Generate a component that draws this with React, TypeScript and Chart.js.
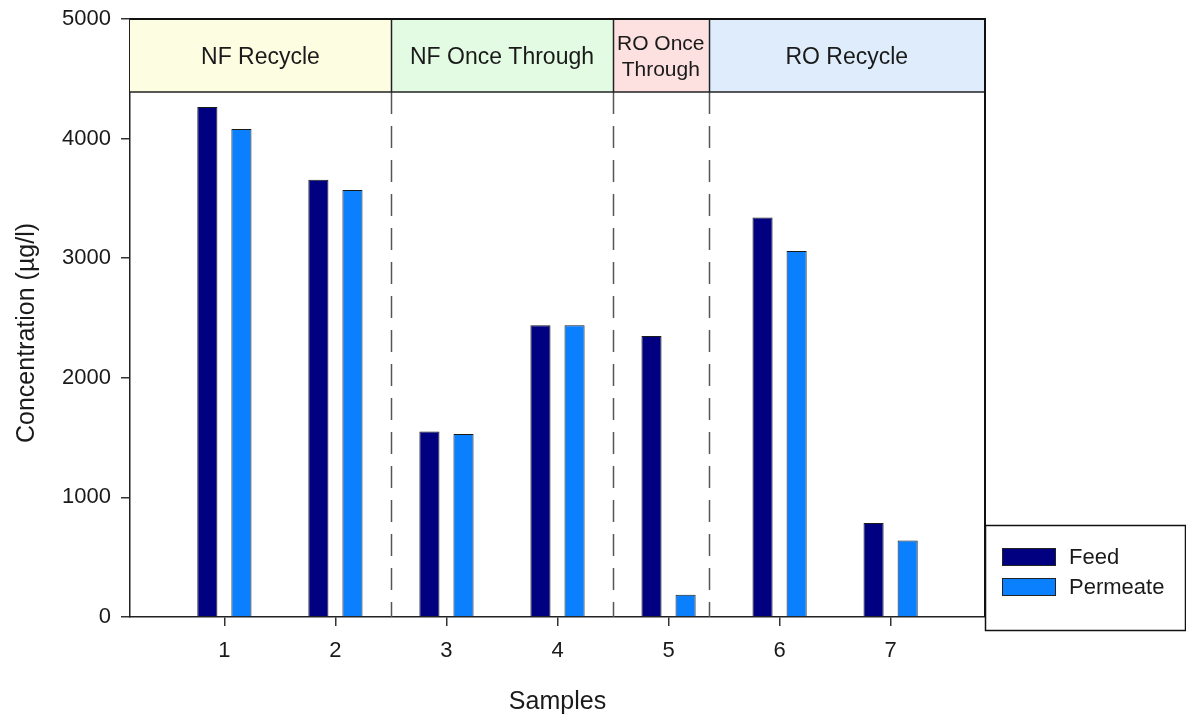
import React, { useEffect, useRef } from 'react';
import { Chart, registerables } from 'chart.js';
Chart.register(...registerables);

const samples = [1, 2, 3, 4, 5, 6, 7];
const feed = [4265, 3655, 1550, 2440, 2350, 3340, 785];
const permeate = [4080, 3570, 1530, 2440, 185, 3060, 640];
const yTicks = [0, 1000, 2000, 3000, 4000, 5000];
const groupLabels = [['NF Recycle'], ['NF Once Through'], ['RO Once', 'Through'], ['RO Recycle']];
const groupBounds = [0.15, 2.5, 4.5, 5.36, 7.85];
const groupColors = ['#fdfde1', '#e2fbe2', '#fde0e0', '#deecfb'];
const headerBottom = 4390;
const seriesNames = ['Feed', 'Permeate'];
const seriesColors = ['#000080', '#0a80ff'];
const yTitle = 'Concentration (µg/l)';

const FONT = '"Liberation Sans", Arial, sans-serif';

const decorPlugin = {
  id: 'decor',
  beforeDatasetsDraw(chart: any) {
    const { ctx, scales } = chart;
    const x = scales.x, y = scales.y;
    ctx.save();
    ctx.strokeStyle = '#555';
    ctx.lineWidth = 1.5;
    ctx.setLineDash([22, 12]);
    for (let i = 1; i < groupBounds.length - 1; i++) {
      const px = Math.round(x.getPixelForValue(groupBounds[i])) + 0.5;
      ctx.beginPath();
      ctx.moveTo(px, y.getPixelForValue(headerBottom));
      ctx.lineTo(px, y.getPixelForValue(0));
      ctx.stroke();
    }
    ctx.restore();
  },
  afterDatasetsDraw(chart: any) {
    const { ctx, scales, chartArea } = chart;
    const x = scales.x, y = scales.y;
    const top = y.getPixelForValue(5000);
    const hb = y.getPixelForValue(headerBottom);
    ctx.save();
    for (let i = 0; i < groupLabels.length; i++) {
      const x0 = x.getPixelForValue(groupBounds[i]);
      const x1 = x.getPixelForValue(groupBounds[i + 1]);
      ctx.fillStyle = groupColors[i];
      ctx.fillRect(x0, top, x1 - x0, hb - top);
      ctx.fillStyle = '#1a1a1a';
      const lines = groupLabels[i];
      const fs = lines.length > 1 ? 21 : 23;
      ctx.font = `${fs}px ${FONT}`;
      ctx.textAlign = 'center';
      ctx.textBaseline = 'middle';
      const cx = (x0 + x1) / 2;
      const cy = (top + hb) / 2 + 2;
      const lh = 26;
      lines.forEach((ln, k) => {
        ctx.fillText(ln, cx, cy + (k - (lines.length - 1) / 2) * lh);
      });
    }
    ctx.strokeStyle = '#222';
    ctx.lineWidth = 1.5;
    for (let i = 1; i < groupBounds.length - 1; i++) {
      const px = Math.round(x.getPixelForValue(groupBounds[i])) + 0.5;
      ctx.beginPath();
      ctx.moveTo(px, top);
      ctx.lineTo(px, hb);
      ctx.stroke();
    }
    ctx.beginPath();
    ctx.moveTo(chartArea.left, hb);
    ctx.lineTo(chartArea.right, hb);
    ctx.stroke();
    // frame top and right
    ctx.lineWidth = 2;
    ctx.strokeStyle = '#111';
    ctx.beginPath();
    ctx.moveTo(chartArea.left, top);
    ctx.lineTo(chartArea.right, top);
    ctx.lineTo(chartArea.right, y.getPixelForValue(0));
    ctx.stroke();

    // y-axis title
    ctx.save();
    ctx.translate(27, 333);
    ctx.rotate(-Math.PI / 2);
    ctx.font = `25px ${FONT}`;
    ctx.fillStyle = '#1a1a1a';
    ctx.textAlign = 'center';
    ctx.textBaseline = 'middle';
    ctx.fillText(yTitle, 0, 0);
    ctx.restore();

    // legend box
    const lx = chartArea.right;
    const ly = 525;
    const lw = 200;
    const lhh = 105;
    ctx.fillStyle = '#fff';
    ctx.fillRect(lx, ly, lw, lhh);
    ctx.strokeStyle = '#111';
    ctx.lineWidth = 1.5;
    ctx.strokeRect(lx + 0.5, ly + 0.5, lw, lhh);
    ctx.font = `22px ${FONT}`;
    ctx.textAlign = 'left';
    ctx.textBaseline = 'middle';
    seriesNames.forEach((name, k) => {
      const sy = ly + 23 + k * 30;
      ctx.fillStyle = seriesColors[k];
      ctx.fillRect(lx + 17, sy, 54, 18);
      ctx.strokeStyle = '#222';
      ctx.lineWidth = 1;
      ctx.strokeRect(lx + 17.5, sy + 0.5, 53, 17);
      ctx.fillStyle = '#1a1a1a';
      ctx.fillText(name, lx + 84, sy + 10);
    });
    ctx.restore();
  },
};

export default function App() {
  const ref = useRef<HTMLCanvasElement | null>(null);
  useEffect(() => {
    if (!ref.current) return;
    const chart = new Chart(ref.current, {
      type: 'bar',
      data: {
        datasets: [
          {
            label: seriesNames[0],
            data: samples.map((s, i) => ({ x: s, y: feed[i] })),
            backgroundColor: seriesColors[0],
            borderColor: '#1a1a1a',
            borderWidth: 1,
          },
          {
            label: seriesNames[1],
            data: samples.map((s, i) => ({ x: s, y: permeate[i] })),
            backgroundColor: seriesColors[1],
            borderColor: '#1a1a1a',
            borderWidth: 1,
          },
        ],
      },
      options: {
        animation: false,
        responsive: true,
        maintainAspectRatio: false,
        categoryPercentage: 0.614,
        barPercentage: 0.59,
        layout: { padding: { left: 0, right: 201, top: 19, bottom: 0 } },
        plugins: { legend: { display: false }, tooltip: { enabled: false } },
        scales: {
          x: {
            type: 'linear',
            min: 0.15,
            max: 7.85,
            offset: false,
            afterBuildTicks: (s: any) => { s.ticks = samples.map((v) => ({ value: v })); },
            afterFit: (s: any) => { s.height = 107; s.paddingLeft = 0; s.paddingRight = 0; },
            grid: { offset: false, drawOnChartArea: false, drawTicks: true, tickLength: 9, color: '#333', lineWidth: 1.5 },
            border: { display: true, color: '#222', width: 1.5 },
            ticks: { color: '#1a1a1a', font: { family: FONT, size: 22 }, padding: 12, maxRotation: 0, callback: (v: any) => String(v) },
            title: { display: true, text: 'Samples', color: '#1a1a1a', font: { family: FONT, size: 25 }, padding: { top: 0, bottom: 7 } },
          },
          y: {
            type: 'linear',
            min: 0,
            max: 5000,
            afterBuildTicks: (s: any) => { s.ticks = yTicks.map((v) => ({ value: v })); },
            afterFit: (s: any) => { s.width = 130; s.paddingTop = 0; s.paddingBottom = 0; },
            grid: { drawOnChartArea: false, drawTicks: true, tickLength: 9, color: '#333', lineWidth: 1.5 },
            border: { display: true, color: '#222', width: 1.5 },
            ticks: { color: '#1a1a1a', font: { family: FONT, size: 22 }, padding: 10, callback: (v: any) => String(v) },
            title: { display: false },
          },
        },
      } as any,
      plugins: [decorPlugin],
    });
    return () => chart.destroy();
  }, []);
  return (
    <div style={{ position: 'fixed', left: 0, top: 0, width: 1186, height: 724, background: '#fff' }}>
      <canvas ref={ref} />
    </div>
  );
}
